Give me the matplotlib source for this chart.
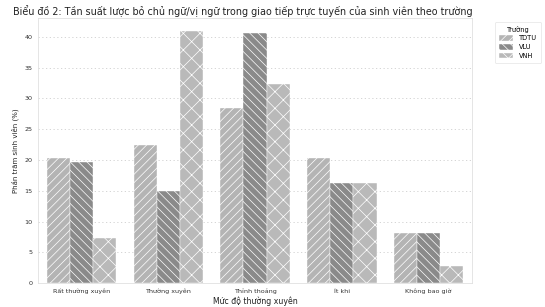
import numpy as np
import matplotlib
matplotlib.use("Agg")
import matplotlib.pyplot as plt

# Dữ liệu (%)
muc_do = ["Rất thường xuyên", "Thường xuyên", "Thỉnh thoảng", "Ít khi", "Không bao giờ"]
truong = ["TDTU", "VLU", "VNH"]
tdtu = [20.3, 22.4, 28.5, 20.3, 8.1]
vlu = [19.7, 15.0, 40.6, 16.3, 8.1]
vnh = [7.3, 41.0, 32.3, 16.3, 2.8]

series = [tdtu, vlu, vnh]
colors = ["#b4b4b4", "#8a8a8a", "#b9b9b9"]
hatches = ["////", "\\\\\\\\", "xx"]

plt.rcParams["font.family"] = "DejaVu Sans"
plt.rcParams["hatch.color"] = "#e6e6e6"
plt.rcParams["hatch.linewidth"] = 0.5

fig = plt.figure(figsize=(5.45, 3.07), dpi=100)
ax = fig.add_axes([0.07, 0.078, 0.796, 0.862])

x = np.arange(len(muc_do))
w = 0.8 / 3
for i, (vals, name) in enumerate(zip(series, truong)):
    ax.bar(x + (i - 1) * w, vals, width=w, color=colors[i], hatch=hatches[i],
           edgecolor="white", linewidth=0.3, label=name, zorder=2)

ax.set_xlim(-0.5, 4.5)
ax.set_ylim(0, 43)
ax.set_yticks(np.arange(0, 41, 5))
ax.set_xticks(x)
ax.set_xticklabels(muc_do)
ax.tick_params(axis="both", labelsize=4.6, colors="#333333", length=0, pad=4)
ax.yaxis.grid(True, linestyle=(0, (1.5, 3)), color="#cfcfcf", linewidth=0.6, zorder=0)
for s in ax.spines.values():
    s.set_color("#e0e0e0")
    s.set_linewidth(0.6)

ax.set_xlabel("Mức độ thường xuyên", fontsize=5.6, color="#222222", labelpad=2)
ax.set_ylabel("Phần trăm sinh viên (%)", fontsize=5.0, color="#222222", labelpad=4)
fig.suptitle("Biểu đồ 2: Tần suất lược bỏ chủ ngữ/vị ngữ trong giao tiếp trực tuyến của sinh viên theo trường",
             fontsize=6.9, color="#222222", x=0.445, y=0.985)

leg = ax.legend(title="Trường", loc="upper left", bbox_to_anchor=(1.045, 1.0),
                fontsize=4.8, title_fontsize=4.8, frameon=True, handlelength=2.2,
                handleheight=0.9, borderpad=0.6, labelspacing=0.4)
leg.get_frame().set_edgecolor("#dddddd")
leg.get_frame().set_linewidth(0.5)

fig.savefig("out.png", dpi=100)
